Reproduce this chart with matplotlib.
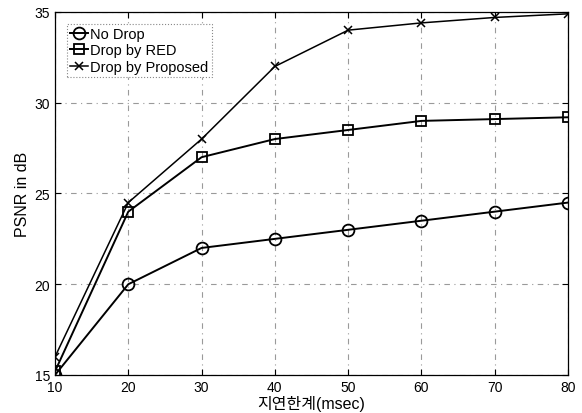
import matplotlib
matplotlib.use("Agg")
import matplotlib.pyplot as plt

plt.rcParams['font.family'] = ['Liberation Sans', 'Noto Sans CJK KR', 'DejaVu Sans']

delay = [10, 20, 30, 40, 50, 60, 70, 80]
no_drop = [15.0, 20.0, 22.0, 22.5, 23.0, 23.5, 24.0, 24.5]
drop_red = [15.2, 24.0, 27.0, 28.0, 28.5, 29.0, 29.1, 29.2]
drop_proposed = [16.0, 24.5, 28.0, 32.0, 34.0, 34.4, 34.7, 34.9]
labels = ["No Drop", "Drop by RED", "Drop by Proposed"]
xticks = [10, 20, 30, 40, 50, 60, 70, 80]
yticks = [15, 20, 25, 30, 35]

fig = plt.figure(figsize=(5.82, 4.14), dpi=100)
ax = fig.add_axes([0.0945, 0.0918, 0.8815, 0.8768])

ax.plot(delay, no_drop, color='black', lw=1.4, marker='o', ms=8.5,
        mfc='none', mew=1.3, label=labels[0])
ax.plot(delay, drop_red, color='black', lw=1.4, marker='s', ms=6.5,
        mfc='none', mew=1.3, label=labels[1])
ax.plot(delay, drop_proposed, color='black', lw=1.1, marker='x', ms=6,
        mew=1.1, label=labels[2])

ax.set_xlim(10, 80)
ax.set_ylim(15, 35)
ax.set_xticks(xticks)
ax.set_yticks(yticks)
ax.tick_params(direction='in', labelsize=10, top=True, right=True, length=4)
ax.grid(True, color='#9a9a9a', linestyle=(0, (5, 4, 1, 4)), linewidth=0.8)
for s in ax.spines.values():
    s.set_linewidth(0.9)

ax.set_xlabel("지연한계(msec)", fontsize=11.5, labelpad=1)
ax.set_ylabel("PSNR in dB", fontsize=11.5, labelpad=3)

leg = ax.legend(loc='upper left', fontsize=10.5, handlelength=1.2,
                handletextpad=0.15, borderaxespad=0.8, labelspacing=0.15,
                fancybox=False, framealpha=1, borderpad=0.25)
leg.get_frame().set_edgecolor('#888888')
leg.get_frame().set_linestyle(':')
leg.get_frame().set_linewidth(0.8)

fig.savefig("out.png", dpi=100)
